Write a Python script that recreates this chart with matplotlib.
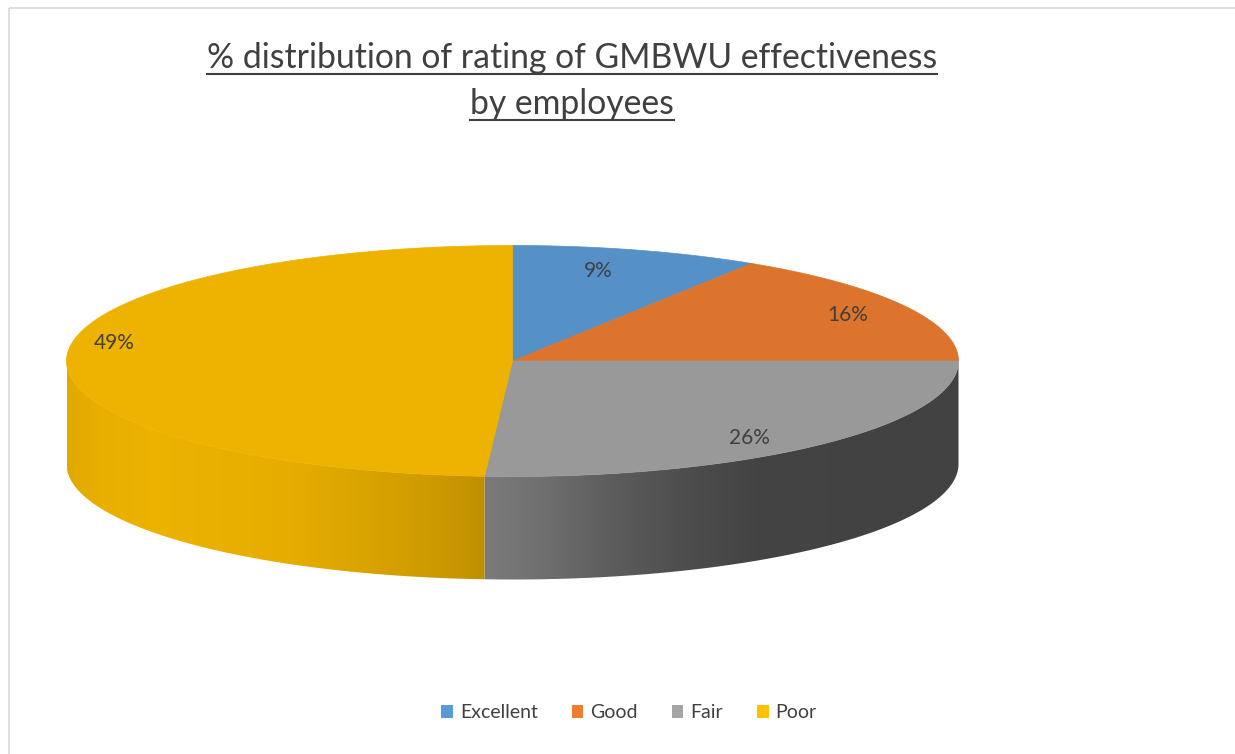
import numpy as np
import matplotlib
matplotlib.use('Agg')
import matplotlib.pyplot as plt
from matplotlib.patches import Polygon, Rectangle, Patch
from matplotlib.lines import Line2D

# Data
categories = ['Excellent', 'Good', 'Fair', 'Poor']
shares = [9, 16, 26, 49]
labels = ['9%', '16%', '26%', '49%']
colors = ['#5B9BD5', '#ED7D31', '#A5A5A5', '#FFC000']

# Layout (pixels, figure is 1235 x 754)
cx, cy = 512.5, 361.0       # centre of the top face
a, b = 446.0, 115.5         # half axes of the top ellipse
depth = 103.0               # thickness of the pie
top_shade = 0.93
# label spots in normalised pie units (u to the right, v upwards)
label_uv = [(0.193, 0.779), (0.751, 0.398), (0.531, -0.667), (-0.892, 0.156)]
# lighting of the side wall along the horizontal axis
shade_u = [-1.0, -0.92, -0.8, -0.5, -0.4, -0.25, -0.14, -0.06, 0.06, 0.2, 0.31, 0.42, 0.55, 1.0]
shade_m = [0.95, 0.98, 1.0, 0.97, 0.94, 0.89, 0.85, 0.80, 0.73, 0.62, 0.55, 0.49, 0.44, 0.43]

txt_col = '#404040'
font = ['Lato', 'DejaVu Sans']

fig = plt.figure(figsize=(12.35, 7.54), dpi=100)
ax = fig.add_axes([0, 0, 1, 1])
ax.set_xlim(0, 1235)
ax.set_ylim(754, 0)
ax.axis('off')


def rim(t1, t2, n=200, dy=0.0):
    t = np.radians(np.linspace(t1, t2, n))
    return np.column_stack([cx + a * np.cos(t), cy + dy - b * np.sin(t)])


def darker(c, f):
    r, g, bb = matplotlib.colors.to_rgb(c)
    return (r * f, g * f, bb * f)


# angles: start at 12 o'clock, go clockwise
fracs = np.array(shares, dtype=float) / sum(shares)
ends = 90 - 360 * np.cumsum(fracs)
starts = np.concatenate([[90], ends[:-1]])

# side walls (only the front half, angles between -180 and 0)
xs = np.linspace(cx - a, cx + a, 600)
m = np.interp((xs - cx) / a, shade_u, shade_m)
for s, e, c in zip(starts, ends, colors):
    base = np.array(darker(c, top_shade))
    for lo, hi in [(-180, 0), (-540, -360)]:
        t1, t2 = min(s, hi), max(e, lo)
        if t1 <= t2:
            continue
        top = rim(t1, t2)
        bot = rim(t2, t1, dy=depth)
        poly = Polygon(np.vstack([top, bot]), closed=True, facecolor='none', edgecolor='none')
        ax.add_patch(poly)
        img = (base[None, None, :] * m[None, :, None]).clip(0, 1)
        im = ax.imshow(img, extent=(cx - a, cx + a, cy + b + depth + 2, cy - 2),
                       aspect='auto', interpolation='bilinear', zorder=1)
        im.set_clip_path(poly)

# top faces
for s, e, c in zip(starts, ends, colors):
    pts = np.vstack([[cx, cy], rim(s, e, 300)])
    ax.add_patch(Polygon(pts, closed=True, facecolor=darker(c, top_shade),
                         edgecolor=darker(c, top_shade), lw=0.5, zorder=2))

# data labels
for (u, v), lab in zip(label_uv, labels):
    ax.text(cx + u * a, cy - v * b, lab, ha='center', va='center', fontsize=15,
            color=txt_col, family=font, zorder=3)

# title, underlined
title_lines = ['% distribution of rating of GMBWU effectiveness', 'by employees']
title_base = [68, 114]
tx = 572
ttl = []
for line, yb in zip(title_lines, title_base):
    ttl.append(ax.text(tx, yb, line, ha='center', va='baseline', fontsize=24.3,
                       color=txt_col, family=font))
fig.canvas.draw()
inv = ax.transData.inverted()
for t, yb in zip(ttl, title_base):
    bb = t.get_window_extent()
    x0 = inv.transform((bb.x0, bb.y0))[0]
    x1 = inv.transform((bb.x1, bb.y0))[0]
    ax.add_line(Line2D([x0, x1], [yb + 6, yb + 6], color=txt_col, lw=1.5))

# legend
handles = [Patch(facecolor=c, edgecolor='none', label=n) for n, c in zip(categories, colors)]
leg = ax.legend(handles=handles, loc='center', bbox_to_anchor=(629 / 1235, 1 - 713 / 754),
                bbox_transform=fig.transFigure, ncol=4, frameon=False,
                handlelength=0.6, handleheight=0.6, handletextpad=0.35,
                columnspacing=1.75, prop={'family': font, 'size': 14})
for t in leg.get_texts():
    t.set_color(txt_col)

# chart area border
ax.add_patch(Rectangle((8.5, 7.5), 1300, 800, facecolor='none', edgecolor='#d9d9d9', lw=1.2, zorder=0))

fig.savefig('out.png', dpi=100)
plt.close('all')
